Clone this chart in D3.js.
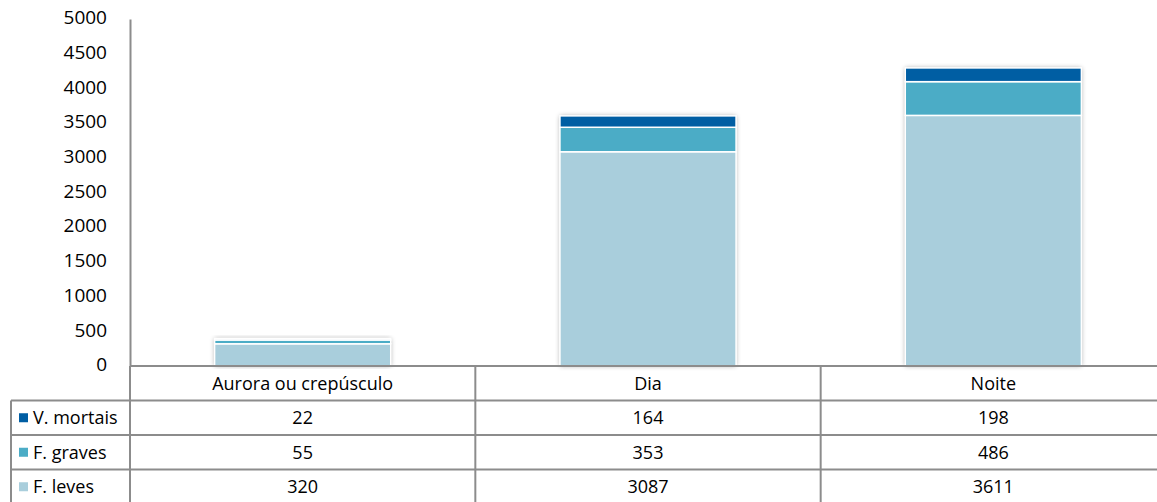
<!DOCTYPE html>
<html>
<head>
<meta charset="utf-8">
<script src="https://cdn.jsdelivr.net/npm/d3@7"></script>
<style>
  body { margin: 0; background: #fff; }
  svg { display: block; font-family: "Open Sans", sans-serif; }
</style>
</head>
<body>
<script>
// categories and series
var categories = ["Aurora ou crepúsculo", "Dia", "Noite"];
var seriesNames = ["F. leves", "F. graves", "V. mortais"];
var leves = [320, 3087, 3611];
var graves = [55, 353, 486];
var mortais = [22, 164, 198];
var yTicks = [0, 500, 1000, 1500, 2000, 2500, 3000, 3500, 4000, 4500, 5000];
var colors = ["#a9cedc", "#4bacc6", "#005ea3"];

var width = 1157, height = 502;
var x0 = 130, x1 = 1166;     // plot area left/right (table goes past the window edge)
var yTop = 19, yBase = 366;
var rowH = 34.5;
var fs = 18;

var svg = d3.select("body").append("svg")
  .attr("width", width)
  .attr("height", height);

var defs = svg.append("defs");
var f = defs.append("filter").attr("id", "shadow")
  .attr("x", "-10%").attr("y", "-10%").attr("width", "120%").attr("height", "120%");
f.append("feGaussianBlur").attr("in", "SourceAlpha").attr("stdDeviation", 2.5);
f.append("feComponentTransfer").append("feFuncA").attr("type", "linear").attr("slope", 0.35);
var m = f.append("feMerge");
m.append("feMergeNode");
m.append("feMergeNode").attr("in", "SourceGraphic");

var x = d3.scaleBand()
  .domain(categories)
  .range([x0, x1])
  .paddingInner(0)
  .paddingOuter(0);

var y = d3.scaleLinear()
  .domain([0, 5000])
  .range([yBase, yTop]);

// stack data
var table = categories.map(function(c, i) {
  return { cat: c, "F. leves": leves[i], "F. graves": graves[i], "V. mortais": mortais[i] };
});
var stacked = d3.stack().keys(seriesNames)(table);

// y axis
var yAxis = svg.append("g")
  .attr("transform", "translate(" + x0 + ",0)")
  .call(d3.axisLeft(y).tickValues(yTicks).tickFormat(d3.format("d")).tickSize(0).tickPadding(23));
yAxis.select(".domain").attr("stroke", "#8c8c8c").attr("stroke-width", 2);
yAxis.selectAll("text")
  .attr("font-size", 19)
  .attr("fill", "#000")
  .attr("font-family", "'Open Sans', sans-serif")
  .attr("dy", "0.25em");

// bars
var barW = x.bandwidth() * 0.51;
var bars = svg.append("g");
bars.selectAll("g.bar")
  .data(table)
  .enter()
  .append("rect")
    .attr("x", function(d) { return x(d.cat) + (x.bandwidth() - barW) / 2; })
    .attr("y", function(d, i) { return y(leves[i] + graves[i] + mortais[i]); })
    .attr("width", barW)
    .attr("height", function(d, i) { return yBase - y(leves[i] + graves[i] + mortais[i]); })
    .attr("fill", "#fff")
    .attr("filter", "url(#shadow)");

bars.selectAll("g.series")
  .data(stacked)
  .enter()
  .append("g")
    .attr("fill", function(d, i) { return colors[i]; })
  .selectAll("rect")
  .data(function(d) { return d; })
  .enter()
  .append("rect")
    .attr("x", function(d) { return x(d.data.cat) + (x.bandwidth() - barW) / 2; })
    .attr("y", function(d) { return y(d[1]); })
    .attr("width", barW)
    .attr("height", function(d) { return y(d[0]) - y(d[1]); })
    .attr("stroke", "#fff")
    .attr("stroke-width", 1.5);

// data table
var lineColor = "#8c8c8c";
var tbl = svg.append("g");
var rows = [
  { name: "V. mortais", vals: mortais, color: colors[2] },
  { name: "F. graves", vals: graves, color: colors[1] },
  { name: "F. leves", vals: leves, color: colors[0] }
];
var headBottom = yBase + rowH;

// horizontal lines
tbl.append("line")
  .attr("x1", x0).attr("x2", x1).attr("y1", yBase).attr("y2", yBase)
  .attr("stroke", lineColor).attr("stroke-width", 2);
rows.forEach(function(r, i) {
  tbl.append("line")
    .attr("x1", 11).attr("x2", x1)
    .attr("y1", headBottom + i * rowH).attr("y2", headBottom + i * rowH)
    .attr("stroke", lineColor).attr("stroke-width", 2);
});
// vertical lines
tbl.append("line")
  .attr("x1", 11).attr("x2", 11).attr("y1", headBottom).attr("y2", height)
  .attr("stroke", lineColor).attr("stroke-width", 2);
tbl.append("line")
  .attr("x1", x0).attr("x2", x0).attr("y1", yBase).attr("y2", height)
  .attr("stroke", lineColor).attr("stroke-width", 2);
categories.forEach(function(c) {
  tbl.append("line")
    .attr("x1", x(c) + x.bandwidth()).attr("x2", x(c) + x.bandwidth())
    .attr("y1", yBase).attr("y2", height)
    .attr("stroke", lineColor).attr("stroke-width", 2);
});

// header labels
tbl.selectAll("text.cat")
  .data(categories)
  .enter()
  .append("text")
    .attr("x", function(d) { return x(d) + x.bandwidth() / 2; })
    .attr("y", yBase + rowH / 2)
    .attr("dy", "0.35em")
    .attr("text-anchor", "middle")
    .attr("font-size", fs)
    .text(function(d) { return d; });

// rows
rows.forEach(function(r, i) {
  var cy = headBottom + i * rowH + rowH / 2;
  tbl.append("rect")
    .attr("x", 19).attr("y", cy - 4.5)
    .attr("width", 9).attr("height", 9)
    .attr("fill", r.color);
  tbl.append("text")
    .attr("x", 33).attr("y", cy)
    .attr("dy", "0.35em")
    .attr("font-size", fs)
    .text(r.name);
  tbl.selectAll(null)
    .data(r.vals)
    .enter()
    .append("text")
      .attr("x", function(d, j) { return x(categories[j]) + x.bandwidth() / 2; })
      .attr("y", cy)
      .attr("dy", "0.35em")
      .attr("text-anchor", "middle")
      .attr("font-size", fs)
      .text(function(d) { return d; });
});
</script>
</body>
</html>
